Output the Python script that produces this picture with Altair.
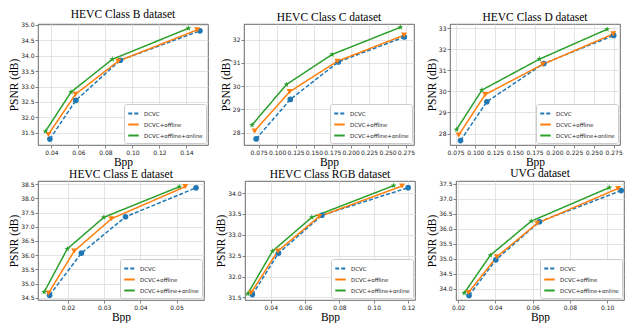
import altair as alt
import pandas as pd

SERIES = ["DCVC", "DCVC+offline", "DCVC+offline+online"]
COLORS = ["#1f77b4", "#ff7f0e", "#2ca02c"]
STAR = "M0,-1L0.24,-0.33L0.95,-0.31L0.38,0.12L0.59,0.81L0,0.4L-0.59,0.81L-0.38,0.12L-0.95,-0.31L-0.24,-0.33Z"
SHAPES = ["circle", "triangle-down", STAR]
SIZES = [32, 36, 36]

titles = ["HEVC Class B dataset", "HEVC Class C dataset", "HEVC Class D dataset",
          "HEVC Class E dataset", "HEVC Class RGB dataset", "UVG dataset"]

# HEVC Class B
b_dcvc_x = [0.0388, 0.0580, 0.0910, 0.1500]
b_dcvc_y = [31.30, 32.55, 33.85, 34.80]
b_off_x = [0.0377, 0.0578, 0.0895, 0.1480]
b_off_y = [31.45, 32.75, 33.82, 34.83]
b_on_x = [0.0355, 0.0545, 0.0851, 0.1415]
b_on_y = [31.55, 32.82, 33.88, 34.88]

# HEVC Class C
c_dcvc_x = [0.0715, 0.1179, 0.1832, 0.2728]
c_dcvc_y = [27.73, 29.43, 31.04, 32.11]
c_off_x = [0.0694, 0.1170, 0.1819, 0.2725]
c_off_y = [28.07, 29.76, 31.07, 32.19]
c_on_x = [0.0659, 0.1127, 0.1746, 0.2676]
c_on_y = [28.33, 30.07, 31.36, 32.53]

# HEVC Class D
d_dcvc_x = [0.0813, 0.1146, 0.1867, 0.2750]
d_dcvc_y = [27.67, 29.51, 31.32, 32.65]
d_off_x = [0.0790, 0.1125, 0.1854, 0.2745]
d_off_y = [27.93, 29.85, 31.28, 32.72]
d_on_x = [0.0763, 0.1083, 0.1813, 0.2667]
d_on_y = [28.19, 30.06, 31.53, 32.94]

# HEVC Class E
e_dcvc_x = [0.0149, 0.0237, 0.0359, 0.0554]
e_dcvc_y = [34.59, 36.07, 37.35, 38.37]
e_off_x = [0.0146, 0.0217, 0.0320, 0.0524]
e_off_y = [34.66, 36.14, 37.28, 38.41]
e_on_x = [0.0134, 0.0198, 0.0299, 0.0508]
e_on_y = [34.70, 36.22, 37.33, 38.41]

# HEVC Class RGB
r_dcvc_x = [0.0293, 0.0445, 0.0698, 0.1200]
r_dcvc_y = [31.57, 32.56, 33.47, 34.13]
r_off_x = [0.0285, 0.0441, 0.0682, 0.1165]
r_off_y = [31.61, 32.61, 33.44, 34.17]
r_on_x = [0.0266, 0.0410, 0.0639, 0.1116]
r_on_y = [31.59, 32.61, 33.42, 34.18]

# UVG
u_dcvc_x = [0.0258, 0.0402, 0.0636, 0.1075]
u_dcvc_y = [33.78, 34.97, 36.24, 37.28]
u_off_x = [0.0255, 0.0407, 0.0624, 0.1058]
u_off_y = [33.88, 35.07, 36.19, 37.35]
u_on_x = [0.0232, 0.0372, 0.0592, 0.1011]
u_on_y = [33.86, 35.12, 36.26, 37.38]

xticks = [
    [0.04, 0.06, 0.08, 0.10, 0.12, 0.14],
    [0.075, 0.100, 0.125, 0.150, 0.175, 0.200, 0.225, 0.250, 0.275],
    [0.075, 0.100, 0.125, 0.150, 0.175, 0.200, 0.225, 0.250, 0.275],
    [0.02, 0.03, 0.04, 0.05],
    [0.04, 0.06, 0.08, 0.10, 0.12],
    [0.02, 0.04, 0.06, 0.08, 0.10],
]
yticks = [
    [31.5, 32.0, 32.5, 33.0, 33.5, 34.0, 34.5, 35.0],
    [28, 29, 30, 31, 32],
    [28, 29, 30, 31, 32, 33],
    [34.5, 35.0, 35.5, 36.0, 36.5, 37.0, 37.5, 38.0, 38.5],
    [31.5, 32.0, 32.5, 33.0, 33.5, 34.0],
    [34.0, 34.5, 35.0, 35.5, 36.0, 36.5, 37.0, 37.5],
]
xfmt = [".2f", ".3f", ".3f", ".2f", ".2f", ".2f"]
yfmt = [".1f", ".0f", ".0f", ".1f", ".1f", ".1f"]
xdom = [[0.030, 0.156], [0.055, 0.286], [0.068, 0.283], [0.0117, 0.0576], [0.025, 0.124], [0.0188, 0.109]]
ydom = [[31.11, 35.02], [27.47, 32.67], [27.46, 33.19], [34.42, 38.61], [31.44, 34.29], [33.63, 37.60]]

groups = [
    [(b_dcvc_x, b_dcvc_y), (b_off_x, b_off_y), (b_on_x, b_on_y)],
    [(c_dcvc_x, c_dcvc_y), (c_off_x, c_off_y), (c_on_x, c_on_y)],
    [(d_dcvc_x, d_dcvc_y), (d_off_x, d_off_y), (d_on_x, d_on_y)],
    [(e_dcvc_x, e_dcvc_y), (e_off_x, e_off_y), (e_on_x, e_on_y)],
    [(r_dcvc_x, r_dcvc_y), (r_off_x, r_off_y), (r_on_x, r_on_y)],
    [(u_dcvc_x, u_dcvc_y), (u_off_x, u_off_y), (u_on_x, u_on_y)],
]

SERIF = "Liberation Serif"
SANS = "DejaVu Sans"


def make_panel(i, w, h):
    rows = []
    for s, (xs, ys) in zip(SERIES, groups[i]):
        for k, (xv, yv) in enumerate(zip(xs, ys)):
            rows.append({"series": s, "bpp": xv, "psnr": yv, "k": k})
    d = pd.DataFrame(rows)
    x = alt.X("bpp:Q", title="Bpp",
              scale=alt.Scale(domain=xdom[i], nice=False, zero=False),
              axis=alt.Axis(values=xticks[i], format=xfmt[i]))
    y = alt.Y("psnr:Q", title="PSNR (dB)",
              scale=alt.Scale(domain=ydom[i], nice=False, zero=False),
              axis=alt.Axis(values=yticks[i], format=yfmt[i]))
    leg = alt.Legend(title=None, orient="bottom-right", symbolType="stroke",
                     symbolStrokeWidth=2.2, symbolSize=110, labelFont=SANS,
                     labelFontSize=5.5, rowPadding=-3, padding=3, offset=2,
                     strokeColor="#cccccc", fillColor="white", cornerRadius=2,
                     labelColor="#222222", labelOffset=4)
    lines = alt.Chart(d).mark_line(strokeWidth=1.5).encode(
        x=x, y=y,
        stroke=alt.Stroke("series:N", scale=alt.Scale(domain=SERIES, range=COLORS),
                          legend=leg, title=None),
        strokeDash=alt.StrokeDash("series:N", title=None, legend=leg,
                                  scale=alt.Scale(domain=SERIES, range=[[4, 2], [1, 0], [1, 0]])),
        order="k:Q",
    )
    layers = [lines]
    for s, c, shp, sz in zip(SERIES, COLORS, SHAPES, SIZES):
        layers.append(
            alt.Chart(d[d["series"] == s]).mark_point(
                filled=True, opacity=1, size=sz, strokeWidth=0, color=c, shape=shp
            ).encode(x=x, y=y)
        )
    return alt.layer(*layers).properties(
        width=w, height=h,
        title=alt.Title(titles[i], font=SERIF, fontSize=11.5, fontWeight="normal",
                        color="black", offset=1),
    )


RES = dict(stroke="independent", strokeDash="independent")
H1, H2 = 121, 119
row1 = alt.hconcat(make_panel(0, 170, H1), make_panel(1, 170, H1), make_panel(2, 170, H1),
                   spacing=10).resolve_scale(**RES)
row2 = alt.hconcat(make_panel(3, 166, H2), make_panel(4, 170, H2), make_panel(5, 168, H2),
                   spacing=10).resolve_scale(**RES)

chart = alt.vconcat(row1, row2, spacing=0).resolve_scale(**RES).properties(
    padding=0
).configure_view(
    stroke="#444444", strokeWidth=0.8
).configure_axis(
    labelFont=SANS, labelFontSize=6, labelColor="#222222", labelPadding=1,
    tickSize=3, tickColor="#333333", tickWidth=0.6, domain=False,
    grid=True, gridColor="#dddddd", gridWidth=0.8,
    titleFont=SERIF, titleFontSize=11.5, titleFontWeight="normal", titleColor="black",
    titlePadding=1,
)

chart.save("out.html", embed_options={"renderer": "svg", "actions": False})
